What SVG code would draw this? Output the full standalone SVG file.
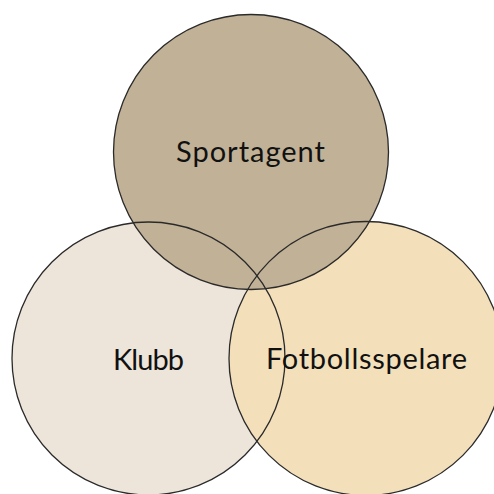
<svg xmlns="http://www.w3.org/2000/svg" width="494" height="494" viewBox="0 0 494 494">
<style>
.o{fill:none;stroke:#2a2a2a;stroke-width:1.3}
.t{font-family:"Lato","Open Sans",sans-serif;font-size:29px;fill:#111;text-anchor:middle}
</style>
<rect width="494" height="494" fill="#fff"/>
<g id="klubb"><circle cx="148.5" cy="358.5" r="136.5" fill="#EDE5DA"/></g>
<g id="fotbollsspelare"><circle cx="366" cy="358.5" r="137" fill="#F3DFBA"/></g>
<g id="sportagent"><circle cx="251" cy="152" r="137.5" fill="#C1B196"/></g>
<g id="outlines">
<circle class="o" cx="148.5" cy="358.5" r="136.5"/>
<circle class="o" cx="366" cy="358.5" r="137"/>
<circle class="o" cx="251" cy="152" r="137.5"/>
</g>
<g id="labels">
<text class="t" x="250.5" y="162" textLength="149" lengthAdjust="spacing">Sportagent</text>
<text class="t" x="148.5" y="370" textLength="71" lengthAdjust="spacing">Klubb</text>
<text class="t" x="366.5" y="369" textLength="201" lengthAdjust="spacing">Fotbollsspelare</text>
</g>
</svg>
